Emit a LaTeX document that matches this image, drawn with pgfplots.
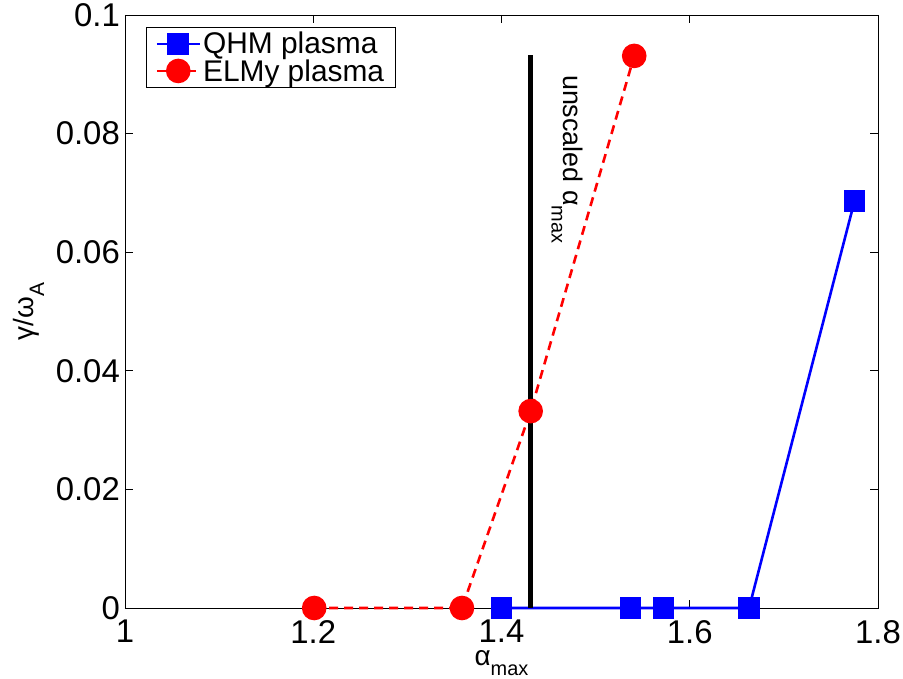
\documentclass[border=0pt]{standalone}
\usepackage{fontspec}
\setmainfont{Liberation Sans}
\usepackage{pgfplots}
\pgfplotsset{compat=1.18}
\begin{document}
\begin{tikzpicture}
\useasboundingbox (-125bp,-71bp) rectangle (778bp,608bp);
\begin{axis}[
  at={(0,0)}, anchor=south west,
  scale only axis,
  width=753bp, height=593bp,
  xmin=1, xmax=1.8, ymin=0, ymax=0.1,
  xtick={1,1.2,1.4,1.6,1.8},
  xticklabels={1,1.2,1.4,1.6,1.8},
  ytick={0,0.02,0.04,0.06,0.08,0.1},
  yticklabels={0,0.02,0.04,0.06,0.08,0.1},
  scaled y ticks=false,
  tick align=inside,
  tick pos=both,
  major tick length=8bp,
  tick style={black, line width=0.6bp},
  axis line style={black, line width=0.8bp},
  xticklabel style={font=\fontsize{33}{36}\selectfont, inner sep=0pt, anchor=north, yshift=-12bp},
  yticklabel style={font=\fontsize{33}{36}\selectfont, inner sep=0pt, anchor=east, xshift=-5bp},
  xlabel={α\raisebox{-10bp}{\fontsize{20}{22}\selectfont max}},
  xlabel style={font=\fontsize{28}{30}\selectfont, inner sep=0pt, at={(axis description cs:0.5,-0.072)}, anchor=north},
  ylabel={γ/ω\raisebox{-11bp}{\fontsize{21}{22}\selectfont A}},
  ylabel style={font=\fontsize{28}{30}\selectfont, at={(axis description cs:-0.128,0.5)}, anchor=center, rotate=0},
  legend style={at={(rel axis cs:0.028,0.98)}, anchor=north west,
    font=\fontsize{30}{34}\selectfont, draw=black, line width=0.8bp,
    inner xsep=9bp, inner ysep=3bp, row sep=0bp},
  legend cell align=left,
  legend image code/.code={\draw[#1] (0bp,0bp) -- (43bp,0bp); \draw[#1, only marks] plot coordinates {(21.5bp,0bp)};},
  clip=false,
]
\addplot[blue, line width=2.6bp, mark=square*, mark size=9.5bp, mark options={solid, fill=blue}]
  coordinates {(1.40,0) (1.537,0) (1.572,0) (1.663,0) (1.775,0.0686)};
\addlegendentry{QHM plasma}
\addplot[red, dashed, dash pattern=on 9bp off 6bp, line width=2.6bp, mark=*, mark size=11bp, mark options={solid, fill=red}]
  coordinates {(1.201,0) (1.358,0) (1.431,0.0332) (1.541,0.0931)};
\addlegendentry{ELMy plasma}
\addplot[black, line width=4.5bp, forget plot] coordinates {(1.431,0) (1.431,0.0932)};
\node[rotate=-90, anchor=north west, font=\fontsize{27}{30}\selectfont, inner sep=0pt]
  at (axis cs:1.487,0.0899) {unscaled α\raisebox{-12bp}{\fontsize{20}{22}\selectfont max}};
\end{axis}
\end{tikzpicture}
\end{document}
